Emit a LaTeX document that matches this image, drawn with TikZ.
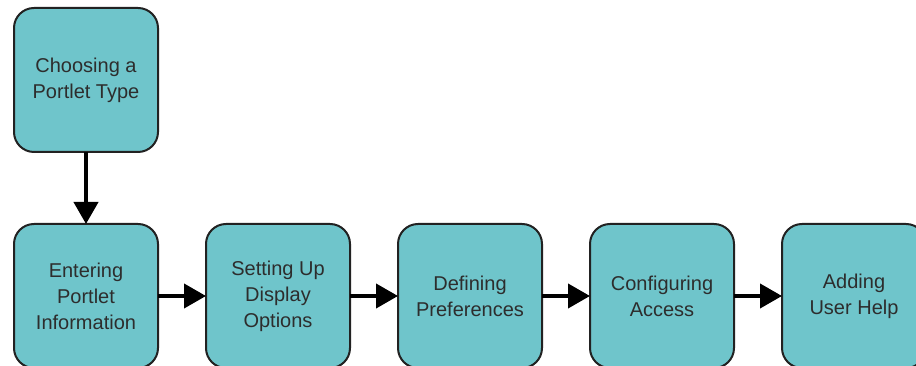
\documentclass[tikz,border=0pt]{standalone}
\usepackage{fontspec}
\setmainfont{Liberation Sans}
\usepackage{tikz}
\usetikzlibrary{arrows.meta,positioning}

\definecolor{boxfill}{RGB}{111,197,203}
\definecolor{boxline}{RGB}{34,34,34}
\definecolor{boxtext}{RGB}{45,45,45}

\begin{document}
\begin{tikzpicture}[x=1pt,y=1pt,
	>={Triangle[length=22pt,width=24pt]},
	node distance=46pt,align=center,
	task/.style={draw=boxline,line width=2pt,fill=boxfill,rounded corners=20pt,
		minimum width=144pt,minimum height=144pt,inner sep=0pt,
		text=boxtext,font=\fontsize{20}{26}\selectfont},
	flow/.style={->,line width=4pt,shorten <=-1pt,shorten >=-1pt}]
		\useasboundingbox (0,0) rectangle (916,366);
		\node[task] (choose) at (86,286) {Choosing a\\Portlet Type};
		\node[task] [below=70pt of choose] (enter) {Entering\\Portlet\\Information};
		\node[task] [right=of enter] (display) {Setting Up\\Display\\Options};
		\node[task] [right=of display] (prefs) {Defining\\Preferences};
		\node[task] [right=of prefs] (access) {Configuring\\Access};
		\node[task] [right=of access] (help) {Adding\\User Help};
		\path[flow]
			(choose) edge (enter)
			(enter) edge (display)
			(display) edge (prefs)
			(prefs) edge (access)
			(access) edge (help);
	\end{tikzpicture}
\end{document}
